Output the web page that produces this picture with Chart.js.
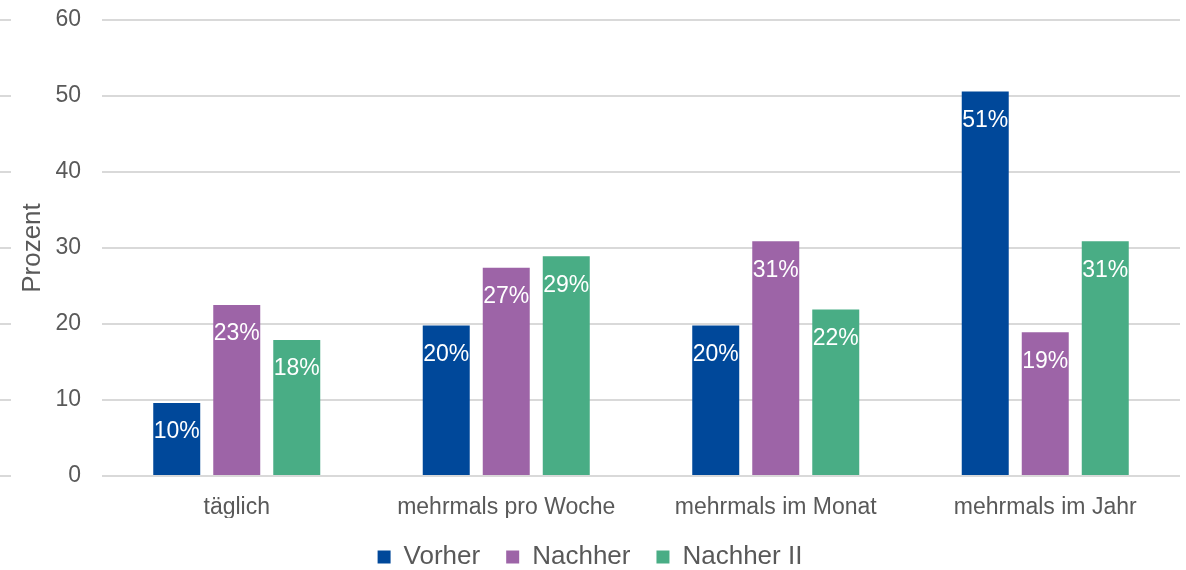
<!DOCTYPE html>
<html>
<head>
    <meta charset="utf-8">
    <title>Prozent</title>
    <style>
        html, body {
            margin: 0;
            padding: 0;
            background: #ffffff;
        }
        .container {
            position: relative;
            width: 1186px;
            height: 570px;
        }
    </style>
</head>
<body>
    <div class="container">
        <canvas id="chart"></canvas>
    </div>

    <script src="https://cdn.jsdelivr.net/npm/chart.js"></script>
    <script>
        const categories = ['täglich', 'mehrmals pro Woche', 'mehrmals im Monat', 'mehrmals im Jahr'];
        const vorher = [9.6, 19.8, 19.8, 50.6];
        const nachher = [22.5, 27.4, 30.9, 18.9];
        const nachher2 = [17.9, 28.9, 21.9, 30.9];
        const yTicks = [0, 10, 20, 30, 40, 50, 60];

        const textColor = '#595959';
        const gridColor = '#d9d9d9';
        const fontFamily = '"Liberation Sans", Arial, sans-serif';

        // white value labels inside the top of each bar, plus the small dashes at the left edge
        const barLabels = {
            id: 'barLabels',
            afterDatasetsDraw(chart) {
                const ctx = chart.ctx;
                ctx.save();
                ctx.fillStyle = '#ffffff';
                ctx.font = '23px ' + fontFamily;
                ctx.textAlign = 'center';
                ctx.textBaseline = 'middle';
                chart.data.datasets.forEach((ds, i) => {
                    chart.getDatasetMeta(i).data.forEach((bar, j) => {
                        ctx.fillText(Math.round(ds.data[j]) + '%', bar.x, bar.y + 29);
                    });
                });
                const y = chart.scales.y;
                ctx.strokeStyle = gridColor;
                ctx.lineWidth = 2;
                yTicks.forEach(v => {
                    const py = Math.round(y.getPixelForValue(v));
                    ctx.beginPath();
                    ctx.moveTo(0, py);
                    ctx.lineTo(11, py);
                    ctx.stroke();
                });
                ctx.restore();
            }
        };

        const ctx = document.getElementById('chart').getContext('2d');
        const chart = new Chart(ctx, {
            type: 'bar',
            data: {
                labels: categories,
                datasets: [
                    { label: 'Vorher', data: vorher, backgroundColor: '#00489a' },
                    { label: 'Nachher', data: nachher, backgroundColor: '#9d64a7' },
                    { label: 'Nachher II', data: nachher2, backgroundColor: '#49ad85' }
                ]
            },
            options: {
                responsive: true,
                maintainAspectRatio: false,
                animation: false,
                categoryPercentage: 0.668,
                barPercentage: 0.783,
                layout: {
                    padding: { top: 20, right: 6, bottom: -10, left: 0 }
                },
                plugins: {
                    tooltip: { enabled: false },
                    legend: {
                        position: 'bottom',
                        labels: {
                            color: textColor,
                            font: { family: fontFamily, size: 26 },
                            boxWidth: 13,
                            boxHeight: 13,
                            padding: 26
                        }
                    }
                },
                scales: {
                    x: {
                        afterFit(scale) {
                            scale.height = 42;
                        },
                        grid: { display: false, drawTicks: false },
                        border: { display: false },
                        ticks: {
                            color: textColor,
                            font: { family: fontFamily, size: 23 },
                            padding: 18
                        }
                    },
                    y: {
                        min: 0,
                        max: 60,
                        afterBuildTicks(scale) {
                            scale.ticks = yTicks.map(v => ({ value: v }));
                        },
                        afterFit(scale) {
                            scale.width = 102;
                            scale.paddingTop = 0;
                            scale.paddingBottom = 0;
                        },
                        grid: { color: gridColor, lineWidth: 2, drawTicks: false },
                        border: { display: false },
                        ticks: {
                            color: textColor,
                            font: { family: fontFamily, size: 23 },
                            padding: 21
                        },
                        title: {
                            display: true,
                            text: 'Prozent',
                            color: textColor,
                            font: { family: fontFamily, size: 26 },
                            padding: { top: 17, bottom: 0 }
                        }
                    }
                }
            },
            plugins: [barLabels]
        });
    </script>
</body>
</html>
